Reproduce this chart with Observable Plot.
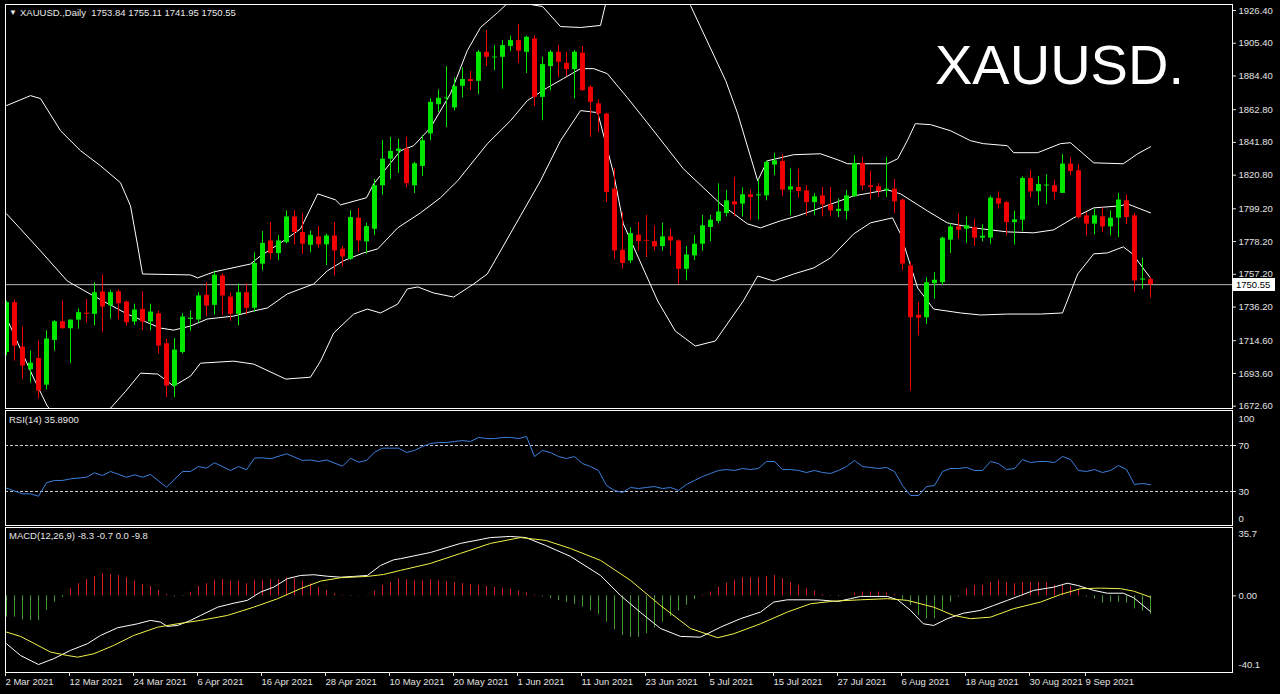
<!DOCTYPE html>
<html><head><meta charset="utf-8">
<script src="https://cdn.jsdelivr.net/npm/d3@7"></script>
<script src="https://cdn.jsdelivr.net/npm/@observablehq/plot@0.6"></script>
<style>
html,body{margin:0;padding:0;background:#000;}
#chart{position:relative;width:1280px;height:694px;background:#000;overflow:hidden;}
#chart svg{position:absolute;left:0;top:0;}
.lbl{position:absolute;font-family:"Liberation Sans",Arial,sans-serif;font-size:9.5px;color:#e8e8e8;white-space:pre;line-height:12px;}
</style></head><body><div id="chart"></div><script>
// ---------- DATA ----------
const symbol = "XAUUSD.";
const headerText = "XAUUSD.,Daily  1753.84 1755.11 1741.95 1750.55";
const rsiLabel = "RSI(14) 35.8900";
const macdLabel = "MACD(12,26,9) -8.3 -0.7 0.0 -9.8";
const lastClose = 1750.55;

const open = [1707,1739,1710.5,1696,1703.2,1686.1,1714.8,1726.8,1722.3,1727.8,
1732.2,1731.5,1745.9,1736.9,1746,1739.4,1726.6,1734.7,1726.6,1731.9,
1712.6,1685.5,1707,1728.2,1727.9,1743.7,1737.3,1756.1,1742.6,1731.5,
1745.4,1735.4,1763.7,1778.6,1770.5,1777.5,1794,1784,1775.8,1781.2,
1776.1,1781.8,1773.3,1766.8,1793.2,1778,1786.1,1814,1831,1836,
1837.5,1814,1826.4,1847.2,1866,1869.8,1863.9,1877.8,1882.1,1881,
1899.6,1896,1896.4,1903.3,1907.1,1899.6,1908.2,1870.7,1890.4,1899.6,
1892.5,1888.5,1899,1877.1,1866.5,1860,1811.8,1772.6,1765.8,1782.3,
1779,1778.2,1775,1781.2,1778.6,1760.4,1769,1776.5,1787.2,1791.1,
1796.2,1803.7,1802.2,1808.2,1807.5,1807.5,1827.3,1829.6,1811.2,1812.9,
1810.7,1803.2,1807.5,1801.7,1797.5,1797.5,1806.9,1828.3,1814,1813.3,
1810.7,1811.8,1804.8,1762.6,1730.9,1729.3,1751.2,1751.8,1779.1,1787.6,
1786.1,1787.2,1780.4,1780.4,1805.8,1803.2,1790.4,1791.9,1818.7,1810.2,
1813.8,1814,1809.1,1827.9,1823.6,1794.7,1789.4,1794.1,1787.6,1793.2,
1804.3,1794.7,1753.5,1753.84];
const high = [1740,1740.7,1723.4,1708,1714.4,1721,1727.5,1740,1728,1735,
1741,1751.8,1756.8,1747,1747.3,1740,1738,1746,1738,1733.7,
1715.6,1716,1732,1733.7,1745.4,1751.8,1759.4,1757.5,1745.4,1751,
1751,1771,1784.6,1790.4,1782,1797.9,1798,1796,1785,1787.7,
1783,1790.4,1775,1798,1799.4,1790,1818,1843,1845,1844,
1845,1829,1846.1,1869.7,1875.4,1890.4,1883.2,1889.6,1887.4,1900.7,
1913.5,1903.9,1907,1910,1917.4,1910,1910.3,1896.4,1900.7,1903.9,
1899.6,1900.7,1903.3,1878.2,1869,1860.5,1825,1796.8,1787,1790.4,
1795,1788.3,1790,1786,1779.3,1775,1782,1795,1795,1815.2,
1811,1819.3,1812.6,1811.2,1818,1830,1834.7,1834,1824.7,1824.7,
1814,1809,1813,1813,1805.6,1811,1833.2,1832.1,1823.4,1815.4,
1832.1,1818,1805.4,1764.7,1739,1755,1758.3,1781,1789.7,1795.8,
1794,1792.6,1789,1807.5,1810,1803.9,1797.8,1819.8,1824,1820,
1821,1817.6,1834,1831.8,1827.5,1796.8,1799,1799.8,1797.9,1809,
1808,1796.2,1767.5,1755.11];
const low = [1705,1701.5,1690,1687.5,1677.1,1683,1708,1722,1700,1722,
1726,1724,1719.7,1728.5,1728,1724,1724.4,1721,1721,1706,
1678,1678,1706,1720.8,1726,1730,1731,1731,1727,1724,
1731,1732.6,1759.4,1766.2,1766,1776.7,1776,1770,1771,1774,
1762.6,1756.2,1762,1766,1771.1,1770,1782,1808,1818,1822,
1812.7,1809,1819.9,1842.9,1861,1851.4,1862,1870.3,1875,1872.4,
1890.4,1887.9,1876,1900,1892.5,1886,1864.7,1855.7,1875,1883.2,
1884,1869.7,1874.5,1845,1848,1803.2,1766.9,1760.5,1764,1772.2,
1768,1772.2,1772,1769,1750.8,1753,1766,1772,1778,1789.5,
1794,1794,1794,1791.9,1792,1804.3,1820.4,1807,1794.7,1806,
1794.7,1795,1794,1794,1793.6,1792,1806.5,1810.7,1805,1806.5,
1806.5,1796,1759.4,1682.2,1717.6,1725,1741.2,1750,1770.5,1779.7,
1777,1775,1778,1776.5,1799,1781.8,1776,1784.6,1806,1801,
1802,1804.8,1809,1820.4,1792.6,1781.8,1782.5,1784,1781.8,1780.7,
1789,1745.4,1747.6,1741.95];
const close = [1739,1711.2,1698.3,1700.2,1682.3,1715.7,1726.8,1722.3,1727.8,1732.6,
1731.5,1745.4,1736.2,1745.4,1738.3,1726.1,1734.3,1726.6,1733,1711.2,
1685.5,1708.6,1729.8,1729,1743.3,1736.8,1756.6,1743.3,1731.5,1745.4,
1735.4,1764.1,1777,1770.5,1778.6,1794,1784,1776.5,1782.2,1776.1,
1781.8,1772.2,1768.3,1793.6,1778.6,1787.8,1814,1831,1836,1837.5,
1815.3,1828.1,1842.9,1867.5,1870.1,1870.4,1877.6,1882.1,1880.8,1899.6,
1896.4,1896.5,1903.9,1907.1,1900.3,1909.2,1870.7,1891.7,1899.6,1893.2,
1888.5,1899.6,1875,1867.5,1860,1809.7,1772.2,1764.1,1783.3,1778.2,
1778.4,1774.8,1781.2,1778.6,1760.4,1769.6,1776.5,1788.3,1791.9,1797.2,
1804.3,1801.7,1808.2,1806.5,1808.2,1829,1830,1811.2,1813.3,1810.3,
1803.2,1806.9,1801.7,1797.9,1798.9,1807.5,1828.3,1813.9,1812.9,1810.3,
1811.8,1803.7,1763.7,1729.3,1729,1751.8,1753.4,1780.4,1787.6,1785.5,
1788.3,1780.4,1781.6,1806.1,1802.2,1790.4,1792.1,1818.7,1810.1,1814.8,
1814.4,1809.8,1827.9,1823.1,1793.6,1789.4,1794.7,1787.6,1793.2,1804.8,
1793.6,1752.9,1754.2,1750.55];

// Bollinger bands: [bar index, price]
const bbUpper = [[0,1865.4],[3,1871.8],[4.25,1869.9],[6.75,1849.3],[9.25,1836.5],[11.75,1826.8],[14.25,1815.9],[15.5,1801.1],[16.4,1775.4],[17,1757.4],[23,1756.8],[23.9,1754.9],[25.9,1758.7],[30.5,1763.8],[31.75,1769],[34.25,1777.3],[36.75,1786.3],[38.9,1808.8],[41.1,1805],[41.75,1801.7],[45,1806.3],[45.9,1815.2],[49.25,1836.5],[50.9,1839.7],[53,1851.2],[55.5,1873.1],[57.6,1900.7],[59.25,1915.5],[61.4,1925.1],[62.6,1930.9],[64,1934],[65.75,1930],[67,1929],[69.25,1916.1],[71.75,1915.5],[74.25,1916.8],[74.9,1930.9],[76,1945],[78,1960],[80,1966],[82,1960],[84,1944],[85.5,1929.6],[89.9,1881.4],[91.4,1860.2],[93.9,1817.2],[95.1,1830],[98.4,1833.9],[101.75,1834.5],[104.25,1830],[105.1,1828.1],[110.1,1828.1],[111.4,1831.3],[112.6,1842.9],[113.6,1853.8],[115.5,1853.2],[118,1849.3],[120.5,1842.9],[122.1,1841],[125.1,1839.7],[125.9,1835.2],[128.9,1835.2],[131.75,1841],[133,1841.6],[135.9,1828.7],[139.6,1828.1],[141.4,1834.5],[143,1839]];
const bbMiddle = [[0,1796],[1.75,1786.3],[4.25,1772.2],[7.6,1752.9],[10.9,1743.3],[15.1,1731.7],[19.25,1722.7],[20.9,1721.4],[23,1724],[25.1,1728.5],[28.4,1730.4],[30.9,1733.7],[32.6,1735.6],[35.1,1744.6],[38.4,1751],[40.1,1759.4],[42.1,1765.8],[44.6,1770.9],[46.4,1773.5],[48.9,1787],[51.75,1796.6],[54.25,1806.3],[56.4,1817.2],[60.1,1840.9],[63,1855.7],[65.1,1868.6],[67.6,1876.9],[69.6,1882.7],[71.75,1889.1],[73.4,1889.1],[75.1,1885.9],[77.6,1870.5],[80.1,1854.4],[84.6,1824.9],[89.25,1802.4],[92.6,1789.6],[94.25,1787],[96.75,1791.5],[98.9,1794.7],[101.75,1799.8],[105.9,1807.5],[110.1,1811.4],[111.75,1808.8],[115.1,1797.9],[117.6,1790.2],[120.9,1787],[125.1,1784.4],[128.4,1783.8],[130.9,1785.7],[133.4,1793.4],[135.9,1799.8],[139.25,1801.1],[140.1,1802.4],[143,1796.6]];
const bbLower = [[0,1729.2],[3.4,1690.6],[5.1,1672.6],[7,1662],[9,1658],[11,1662],[13,1671.3],[14.9,1682.2],[16.75,1693.8],[18.9,1693.2],[20.9,1685.5],[23,1691.9],[24.25,1700.2],[28.4,1701.5],[30.9,1699.6],[34.9,1690],[38,1691.2],[39.25,1701.5],[40.9,1719.5],[43.4,1731.7],[45.1,1734.9],[46.75,1732.4],[48.9,1738.1],[50.1,1747.8],[51.4,1749.1],[53.4,1745.2],[55.9,1742.6],[58.4,1751],[60.1,1757.4],[61.75,1772.2],[64.25,1794.7],[66.75,1817.2],[69.25,1842.9],[71.75,1862.2],[73.9,1860.9],[75.9,1821.7],[77.1,1789.6],[81.4,1740.1],[83.6,1720.8],[86.1,1711.2],[88.6,1714.4],[92.1,1740.1],[93.9,1756.1],[95.9,1752.9],[98.4,1757.4],[100.9,1761.3],[103,1767.7],[105.9,1783.1],[108,1790.2],[110.75,1793.4],[111.75,1783.1],[113.9,1748.4],[115.9,1734.9],[119.25,1732.4],[121.75,1731.1],[125.1,1731.7],[129.25,1731.7],[132,1732.4],[133.9,1757.4],[135.9,1770.3],[137.6,1770.9],[139.6,1774.8],[140.75,1770.3],[143,1754.8]];

// RSI(14): [bar index, value]
const rsi = [[0,32.9],[2,28],[3,28],[4,25.9],[5,37.6],[6,39.6],[7,39.6],[8,41],[10,42.4],[11,46.3],[12,43.9],[13,47.4],[15,42.4],[16,44.5],[17,42.4],[18,44.8],[20,33.7],[22,47.4],[23,47.4],[24,51.7],[25,50.3],[26,55],[28,48.3],[29,51.7],[30,48.9],[31,59],[32,59.3],[33,58.4],[35,62.8],[37,57],[38,57.4],[39,56.1],[40,57.4],[42,52],[43,59],[44,55.5],[45,57],[46,64.2],[47,67.7],[49,67.7],[50,63.9],[51,65.7],[52,69.1],[53,71.7],[54,72.6],[55,72.6],[56,73.5],[57,74.3],[58,73.5],[59,77],[60,76],[61,76],[62,77],[63,77],[64,76],[65,77.8],[66,60.4],[67,65.7],[68,63.9],[69,60.4],[70,58.7],[71,60.4],[72,54.3],[73,51.7],[74,48.3],[75,35.2],[76,30.9],[77,29.1],[78,33.5],[79,32.6],[80,33.5],[81,34.3],[82,32.6],[83,33.5],[84,30.9],[85,36.1],[86,39.6],[87,43],[88,45.7],[89,48.3],[90,49.1],[91,48.3],[92,50],[93,49.1],[94,50],[95,56.1],[96,56.1],[97,49.1],[98,49.1],[99,48.3],[100,46.5],[101,48.3],[102,46.5],[103,45.7],[104,48.3],[105,51.7],[106,57],[107,51.7],[108,50.9],[109,50],[110,50.9],[111,47.4],[112,35.2],[113,26.5],[114,26.5],[115,34.3],[116,35.2],[117,47.4],[118,50],[119,50],[120,50.9],[121,48.3],[122,48.3],[123,56.1],[124,54.3],[125,49.1],[126,50],[127,57.8],[128,55.2],[129,56.1],[130,56.1],[131,55.2],[132,60.4],[133,57.8],[134,48.3],[135,47.4],[136,49.1],[137,46.5],[138,48.3],[139,52.6],[140,49.1],[141,36.1],[142,37],[143,35.89]];

// MACD(12,26,9)
const macdMain = [[0,-25.4],[1.75,-31.6],[4,-36.4],[5.9,-33.3],[8,-28.9],[10.1,-25.4],[11.75,-21],[13.9,-16.9],[16.4,-14.8],[18,-13],[19.25,-13.9],[20.1,-16.2],[21.4,-15.7],[23,-13],[24.25,-10.4],[26.4,-6],[28.4,-3.9],[30.1,-2.4],[31.75,2],[33.4,4.6],[35.1,9.1],[36.75,10.8],[38.4,11.2],[40.1,10.4],[41.75,9.9],[43.4,10.3],[45.1,10.8],[46.75,16.1],[48.4,19.1],[49.25,19.7],[53,23],[56.75,27.8],[60.5,30.9],[63,31.5],[64.9,30.9],[67.4,26.7],[70.5,20.9],[74.25,10.8],[76.75,0.2],[79.25,-8.8],[81.75,-17.3],[84.25,-21.5],[86.75,-21.9],[89.25,-16.6],[91.75,-12.1],[94.25,-8.6],[95.9,-3.3],[97.6,-2.1],[101.4,-2.1],[103.9,-3],[105.5,-1.5],[106.75,-0.3],[110.1,-0.3],[111.4,-2.1],[113,-7.7],[114.6,-14.8],[115.9,-15.7],[117.6,-12.1],[119.6,-9.2],[121.75,-7.7],[123.4,-5.1],[125.1,-2.4],[126.75,0.2],[128.4,2.9],[130.9,4.6],[132.6,6.7],[133.9,5.5],[135.9,2.9],[137.6,1.4],[139.6,1.4],[140.9,-1],[143,-8.3]];
const macdSignal = [[0,-19.2],[1.75,-21.5],[3.4,-25.1],[5.5,-29.8],[7.6,-31.6],[8.9,-32.5],[10.9,-30.7],[13.4,-26.3],[15.9,-21],[18.9,-16.6],[21.4,-14.8],[24.25,-13],[27.6,-10.4],[30.9,-6],[33.9,-1.5],[36.75,3.8],[39.25,7.8],[41.75,9.6],[45.1,10.3],[47.1,11.3],[49.25,13.5],[53,17.2],[56.75,22.5],[60.5,27.8],[64.25,30.9],[67.4,29.4],[70.5,25.1],[74.25,18.8],[78,8.2],[81.75,-5.1],[85.5,-17.3],[88.9,-22.2],[90.9,-20.1],[94.25,-14.8],[97.6,-8.6],[100.5,-4.2],[103.4,-2.8],[106.75,-2.1],[110.1,-1.5],[112.6,-2.4],[115.9,-6],[118.4,-10.4],[120.5,-12.1],[123,-11.3],[125.9,-6.8],[129.25,-3.3],[131.75,0.7],[134.25,3.8],[136.75,4.1],[139.25,3.8],[140.9,2.5],[143,-0.7]];
const macdHist = [-11.3,-11.3,-12.7,-13.1,-13.1,-7.7,-3.4,-0.9,3.8,6.4,
8.6,10.3,11.7,11.4,10.8,9.6,7.8,6.0,5.0,2.9,
0.7,-0.5,-0.3,1.9,5.0,6.4,8.2,8.6,7.8,7.8,
6.4,8.2,8.2,8.6,8.6,9.6,9.1,7.8,6.4,4.6,
2.9,1.1,0.3,-0.3,-0.2,0.2,2.5,5.5,7.2,9.1,
8.5,8.0,8.0,8.5,8.0,7.5,7.0,6.5,6.0,5.5,
5.0,4.5,4.0,3.5,2.5,1.5,0.5,-0.5,-1.5,-2.5,
-3.5,-4.5,-6,-8,-10,-14,-18,-21,-22,-22,
-20,-17,-14,-11,-8,-5,-2,0.5,2.0,4.6,
6.7,8.2,9.6,9.6,9.6,10.3,10.8,9.1,7.2,5.5,
3.8,2.5,0.7,-0.3,-0.4,-0.2,1.4,2.0,2.0,2.0,
1.4,0.7,-2.4,-5.1,-10.4,-12.2,-12.2,-7.8,-3.4,-0.5,
3.8,5.5,5.5,7.2,8.2,7.2,6.4,7.2,7.2,7.2,
7.2,5.5,5.5,5.0,2.9,-0.5,-1.6,-3.9,-3.4,-3.4,
-3.9,-6.9,-8.2,-9.8];

// axis ticks
const priceTicks = [1926.40,1905.40,1884.40,1862.80,1841.80,1820.80,1799.20,1778.20,1757.20,1736.20,1714.60,1693.60,1672.60];
const rsiLevels = [70, 30];
const rsiEnds = [100, 0];
const macdTicks = [35.7, 0, -40.1];
const dateTickIdx = [0,8,16,24,32,40,48,56,64,72,80,88,96,104,112,120,128,135];
const dateLabels = ["2 Mar 2021","12 Mar 2021","24 Mar 2021","6 Apr 2021","16 Apr 2021","28 Apr 2021","10 May 2021","20 May 2021","1 Jun 2021","11 Jun 2021","23 Jun 2021","5 Jul 2021","15 Jul 2021","27 Jul 2021","6 Aug 2021","18 Aug 2021","30 Aug 2021","9 Sep 2021"];

// ---------- DRAW ----------
const W = 1280, H = 694;
const FONT = '"Liberation Sans", Arial, sans-serif';
const BULL = "#00e800", BEAR = "#f00000";
const FG = "#e2e2e2";
const xScale = {type: "linear", domain: [-0.125, 153.25], range: [5, 1232], axis: null};
const style = {background: "transparent", color: FG, fontFamily: FONT, fontSize: "9.5px", overflow: "visible"};

const bars = open.map((o, i) => ({i, o, h: high[i], l: low[i], c: close[i], col: close[i] >= o ? BULL : BEAR}));
const pts = arr => arr.map(([i, v]) => ({i, v}));

const main = Plot.plot({
  width: W, height: H, style,
  marginLeft: 5, marginRight: W - 1232, marginTop: 4, marginBottom: H - 408,
  x: xScale,
  y: {domain: [1672.6, 1926.4], range: [405.7, 10], axis: null},
  color: {type: "identity"},
  marks: [
    Plot.ruleY([lastClose], {stroke: "#b8b8b8", strokeWidth: 1}),
    Plot.line(pts(bbUpper), {x: "i", y: "v", stroke: "#ffffff", strokeWidth: 1, clip: true}),
    Plot.line(pts(bbMiddle), {x: "i", y: "v", stroke: "#ffffff", strokeWidth: 1, clip: true}),
    Plot.line(pts(bbLower), {x: "i", y: "v", stroke: "#ffffff", strokeWidth: 1, clip: true}),
    Plot.ruleX(bars, {x: "i", y1: "l", y2: "h", stroke: "col", strokeWidth: 1, clip: true}),
    Plot.ruleX(bars, {x: "i", y1: "o", y2: "c", stroke: "col", strokeWidth: 5, clip: true}),
    Plot.frame({stroke: "#ffffff"}),
    Plot.axisY(priceTicks, {anchor: "right", label: null, tickSize: 3, tickPadding: 3, tickFormat: d => d.toFixed(2), stroke: FG, fill: FG})
  ]
});

const rsiPlot = Plot.plot({
  width: W, height: H, style,
  marginLeft: 5, marginRight: W - 1232, marginTop: 410, marginBottom: H - 525,
  x: xScale,
  y: {domain: [0, 100], range: [525.5, 410.5], axis: null},
  marks: [
    Plot.ruleY(rsiLevels, {stroke: "#d0d0d0", strokeDasharray: "3,2"}),
    Plot.line(pts(rsi), {x: "i", y: "v", stroke: "#3b80dc", strokeWidth: 1, clip: true}),
    Plot.frame({stroke: "#ffffff"}),
    Plot.axisY(rsiLevels, {anchor: "right", label: null, tickSize: 3, tickPadding: 3, stroke: FG, fill: FG}),
    Plot.axisY([rsiEnds[0]], {anchor: "right", label: null, tickSize: 0, tickPadding: 6, dy: 7.5, fill: FG}),
    Plot.axisY([rsiEnds[1]], {anchor: "right", label: null, tickSize: 0, tickPadding: 6, dy: -7.5, fill: FG})
  ]
});

const histData = macdHist.map((v, i) => ({i, v, col: v >= 0 ? "#d42020" : "#3f9a2a"}));
const macdPlot = Plot.plot({
  width: W, height: H, style,
  marginLeft: 5, marginRight: W - 1232, marginTop: 527, marginBottom: H - 672,
  x: xScale,
  y: {domain: [-40.1, 35.7], range: [671, 528], axis: null},
  color: {type: "identity"},
  marks: [
    Plot.ruleX(histData, {x: "i", y1: 0, y2: "v", stroke: "col", strokeWidth: 1}),
    Plot.line(pts(macdMain), {x: "i", y: "v", stroke: "#ffffff", strokeWidth: 1, clip: true}),
    Plot.line(pts(macdSignal), {x: "i", y: "v", stroke: "#f2f24a", strokeWidth: 1, clip: true}),
    Plot.frame({stroke: "#ffffff"}),
    Plot.axisY([macdTicks[1]], {anchor: "right", label: null, tickSize: 3, tickPadding: 3, tickFormat: d => d.toFixed(2), stroke: FG, fill: FG}),
    Plot.axisY([macdTicks[0]], {anchor: "right", label: null, tickSize: 0, tickPadding: 6, dy: 5, tickFormat: d => d.toFixed(1), fill: FG}),
    Plot.axisY([macdTicks[2]], {anchor: "right", label: null, tickSize: 0, tickPadding: 6, dy: -7, tickFormat: d => d.toFixed(1), fill: FG}),
    Plot.axisX(dateTickIdx, {anchor: "bottom", label: null, tickSize: 4, tickPadding: 2, textAnchor: "start", dx: -1,
      tickFormat: d => dateLabels[dateTickIdx.indexOf(d)], stroke: FG, fill: FG})
  ]
});

const chart = document.getElementById("chart");
chart.append(main, rsiPlot, macdPlot);

function addLabel(text, left, top, css = "") {
  const d = document.createElement("div");
  d.className = "lbl";
  d.textContent = text;
  d.style.cssText += `left:${left}px;top:${top}px;${css}`;
  chart.appendChild(d);
  return d;
}
addLabel("\u25BC", 9, 7, "font-size:8px;");
addLabel(headerText, 20, 7);
addLabel(rsiLabel, 9, 414);
addLabel(macdLabel, 9, 530);
addLabel(symbol, 935, 37, "font-size:56px;line-height:56px;color:#ffffff;");
const yTag = main.scale("y").apply(lastClose);
addLabel(lastClose.toFixed(2), 1233, Math.round(yTag - 6.5), "background:#ffffff;color:#000000;width:42px;height:13px;line-height:13px;padding-left:3px;box-sizing:border-box;");
</script></body></html>
